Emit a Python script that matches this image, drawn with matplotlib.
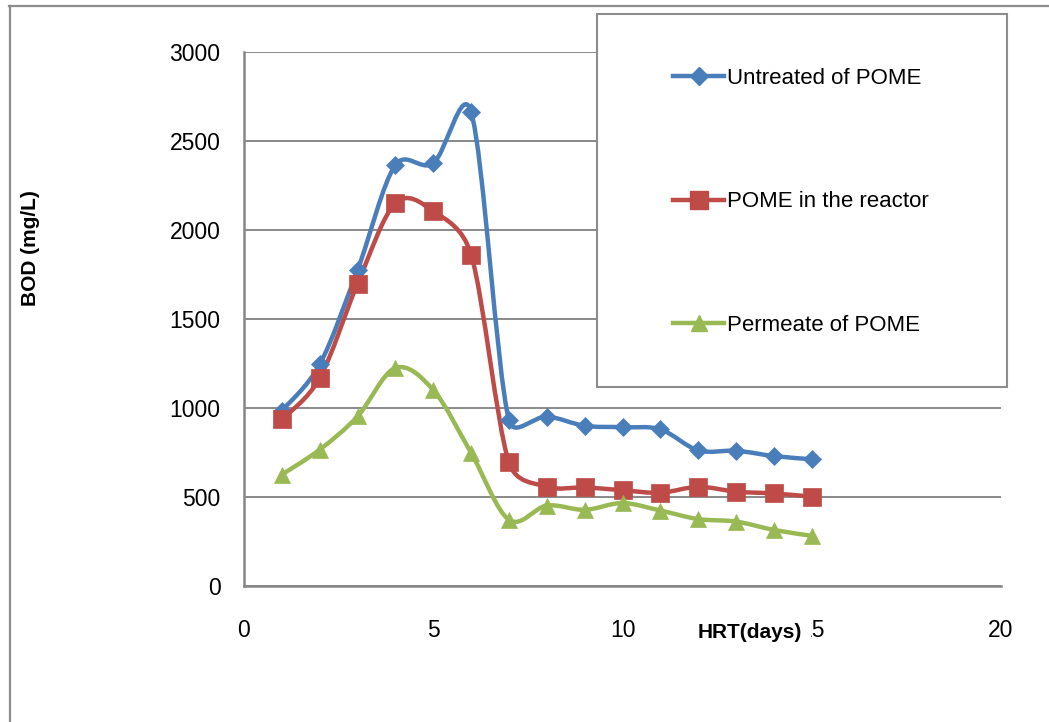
import matplotlib
matplotlib.use("Agg")
import matplotlib.pyplot as plt
from matplotlib.path import Path
from matplotlib.patches import PathPatch, Rectangle
from matplotlib.lines import Line2D
import numpy as np

plt.rcParams['font.family'] = ['Liberation Sans', 'DejaVu Sans']

# HRT (days)
days = [1, 2, 3, 4, 5, 6, 7, 8, 9, 10, 11, 12, 13, 14, 15]
# BOD (mg/L)
untreated = [985, 1245, 1775, 2365, 2375, 2665, 930, 952, 900, 892, 880, 762, 760, 730, 712]
reactor = [936, 1168, 1698, 2150, 2106, 1862, 694, 558, 554, 538, 524, 557, 530, 520, 502]
permeate = [626, 766, 953, 1225, 1101, 748, 372, 452, 428, 466, 424, 376, 362, 315, 282]

names = ['Untreated of POME', 'POME in the reactor', 'Permeate of POME']
colors = ['#4A7EBB', '#BE4B48', '#98B954']
markers = ['D', 's', '^']
msizes = [9.5, 13.5, 12]

W, H = 1049, 722
fig = plt.figure(figsize=(W / 100, H / 100), dpi=100)
ax = fig.add_axes([244 / W, (H - 586) / H, (1001 - 244) / W, (586 - 52) / H])
ax.set_xlim(0, 20)
ax.set_ylim(0, 3000)


def clamp(v, lim):
    n = np.hypot(*v)
    return v * min(1.0, lim / n) if n > 0 else v


def smooth_path(xs, ys):
    # smoothed line like excel: bezier, catmull-rom tangents clamped (screen space)
    p = ax.transData.transform(np.column_stack([xs, ys]).astype(float))
    n = len(p)
    seg = np.hypot(*np.diff(p, axis=0).T)
    verts = [p[0]]
    codes = [Path.MOVETO]
    for i in range(n - 1):
        a = p[i - 1] if i > 0 else p[i]
        d = p[i + 2] if i + 2 < n else p[i + 1]
        c1 = p[i] + clamp((p[i + 1] - a) / 6.0, 0.5 * seg[i])
        c2 = p[i + 1] - clamp((d - p[i]) / 6.0, 0.5 * seg[i])
        verts += [c1, c2, p[i + 1]]
        codes += [Path.CURVE4] * 3
    return Path(ax.transData.inverted().transform(np.array(verts)), codes)


for ys, c, m, ms in zip([untreated, reactor, permeate], colors, markers, msizes):
    ax.add_patch(PathPatch(smooth_path(days, ys), fill=False, edgecolor=c, lw=3.2,
                           capstyle='round', joinstyle='round', zorder=3))
    ax.plot(days, ys, ls='none', marker=m, ms=ms, color=c, mec=c, mew=0.5, zorder=4)

ax.set_xticks([0, 5, 10, 15, 20])
ax.set_yticks(np.arange(0, 3001, 500))
ax.grid(axis='y', color='#898989', lw=1.4)
ax.set_axisbelow(True)
for s in ['top', 'right']:
    ax.spines[s].set_visible(False)
for s in ['left', 'bottom']:
    ax.spines[s].set_color('#868686')
    ax.spines[s].set_linewidth(1.8)
ax.tick_params(length=0, labelsize=16.5)
ax.tick_params(axis='x', pad=24)
ax.tick_params(axis='y', pad=17)

# outer chart border (cropped at right/bottom)
fig.add_artist(Line2D([9 / W, 1.0], [(H - 6) / H] * 2, color='#8c8c8c', lw=1.6))
fig.add_artist(Line2D([10 / W] * 2, [0, (H - 6) / H], color='#8c8c8c', lw=1.6))

fig.text(30 / W, 1 - 248 / H, 'BOD (mg/L)', rotation=90, fontsize=15, fontweight='bold',
         ha='center', va='center')
# axis title sits over the "1" of the 15 tick label, as in the original
fig.text(750 / W, 1 - 633 / H, 'HRT(days)', fontsize=15, fontweight='bold',
         ha='center', va='center', zorder=5,
         bbox=dict(facecolor='white', edgecolor='none', pad=6.5))

fig.add_artist(Rectangle((597 / W, 1 - 387 / H), (1007 - 597) / W, (387 - 14) / H,
                         facecolor='white', edgecolor='#8c8c8c', lw=1.5, zorder=5))
handles = [Line2D([], [], color=c, lw=3.2, marker=m, ms=ms, mec=c)
           for c, m, ms in zip(colors, markers, msizes)]
fig.legend(handles, names, loc='upper left', bbox_to_anchor=(662 / W, 1 - 57 / H),
           frameon=False, fontsize=16, borderpad=0, handlelength=2.3,
           handletextpad=0.12, labelspacing=4.6).set_zorder(6)

fig.savefig('out.png', dpi=100)
